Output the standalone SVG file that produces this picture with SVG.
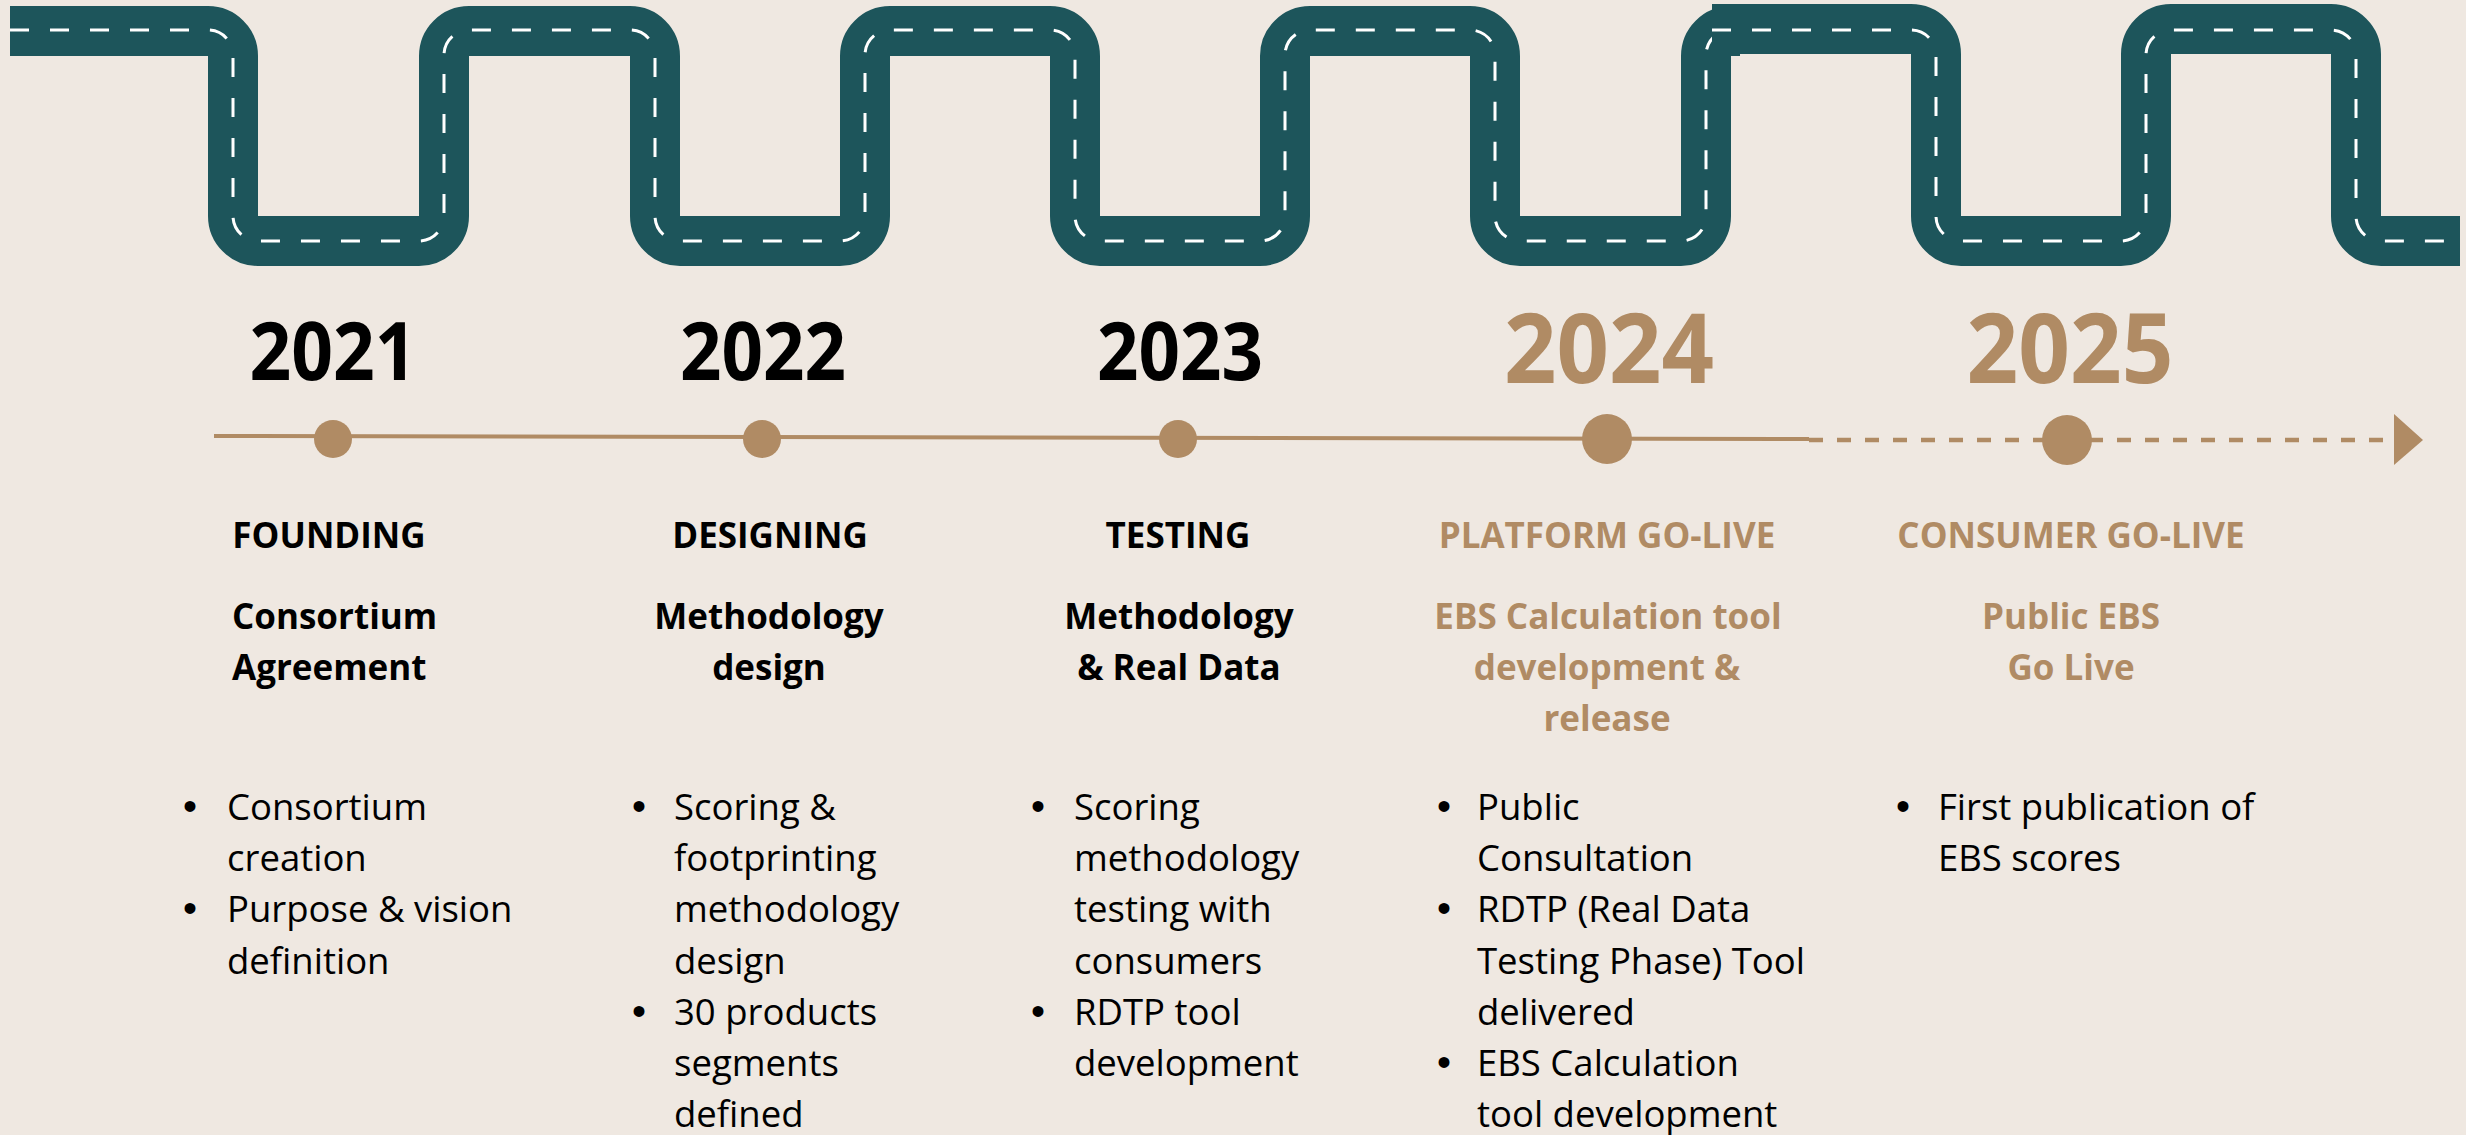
<svg xmlns="http://www.w3.org/2000/svg" width="2466" height="1135" viewBox="0 0 2466 1135">
<style>
.road{fill:none;stroke:#1D555B;stroke-width:50;stroke-linecap:butt;stroke-linejoin:miter}
.lane{fill:none;stroke:#FFFFFF;stroke-width:3;stroke-dasharray:19 21}
.yr{font-family:"Open Sans","Noto Sans",sans-serif;font-weight:700;text-anchor:middle}
.hd{font-family:"Open Sans","Noto Sans",sans-serif;font-weight:700;font-size:35px;text-anchor:middle}
.bt{font-family:"Open Sans","Noto Sans",sans-serif;font-size:36.5px}
.blt{font-family:"Liberation Sans",Arial,sans-serif;font-size:40px}
.blk{fill:#000000}
.gold{fill:#B08B64}
</style>
<rect x="0" y="0" width="2466" height="1135" fill="#EFE8E1"/>
<g id="road">
<path class="road" d="M10,31 H208 A25,25 0 0 1 233,56 V216 A25,25 0 0 0 258,241 H419 A25,25 0 0 0 444,216 V56 A25,25 0 0 1 469,31 H630 A25,25 0 0 1 655,56 V216 A25,25 0 0 0 680,241 H840 A25,25 0 0 0 865,216 V56 A25,25 0 0 1 890,31 H1050 A25,25 0 0 1 1075,56 V216 A25,25 0 0 0 1100,241 H1260 A25,25 0 0 0 1285,216 V56 A25,25 0 0 1 1310,31 H1470 A25,25 0 0 1 1495,56 V216 A25,25 0 0 0 1520,241 H1681 A25,25 0 0 0 1706,216 V56 A25,25 0 0 1 1731,31 H1740"/>
<path class="lane" d="M10,30 H208 A25,25 0 0 1 233,55 V216 A25,25 0 0 0 258,241 H419 A25,25 0 0 0 444,216 V55 A25,25 0 0 1 469,30 H630 A25,25 0 0 1 655,55 V216 A25,25 0 0 0 680,241 H840 A25,25 0 0 0 865,216 V55 A25,25 0 0 1 890,30 H1050 A25,25 0 0 1 1075,55 V216 A25,25 0 0 0 1100,241 H1260 A25,25 0 0 0 1285,216 V55 A25,25 0 0 1 1310,30 H1470 A25,25 0 0 1 1495,55 V216 A25,25 0 0 0 1520,241 H1681 A25,25 0 0 0 1706,216 V55 A25,25 0 0 1 1731,30"/>
<path class="road" d="M1712,29 H1911 A25,25 0 0 1 1936,54 V216 A25,25 0 0 0 1961,241 H2121 A25,25 0 0 0 2146,216 V54 A25,25 0 0 1 2171,29 H2331 A25,25 0 0 1 2356,54 V216 A25,25 0 0 0 2381,241 H2460"/>
<path class="lane" d="M1712,30 H1911 A25,25 0 0 1 1936,55 V216 A25,25 0 0 0 1961,241 H2121 A25,25 0 0 0 2146,216 V55 A25,25 0 0 1 2171,30 H2331 A25,25 0 0 1 2356,55 V216 A25,25 0 0 0 2381,241 H2460"/>
</g>
<g id="connectors">
<line x1="214" y1="436" x2="1809" y2="439" stroke="#B08B64" stroke-width="4"/>
<line x1="1809" y1="440" x2="2394" y2="440" stroke="#B08B64" stroke-width="4.5" stroke-dasharray="14 14"/>
<polygon points="2394,414 2423,440 2394,465" fill="#B08B64"/>
</g>
<g id="m2021">
<circle cx="333" cy="439" r="19" fill="#B08B64"/>
<text class="yr blk" x="333" y="380" font-size="80" textLength="167" lengthAdjust="spacingAndGlyphs">2021</text>
<text class="hd blk" x="329" y="548">FOUNDING</text>
<text class="hd blk" x="232" y="629" text-anchor="start" style="text-anchor:start">Consortium</text>
<text class="hd blk" x="232" y="680" style="text-anchor:start">Agreement</text>
<text class="blt blk" x="183" y="820">•</text>
<text class="bt blk" x="227" y="820">Consortium</text>
<text class="bt blk" x="227" y="871">creation</text>
<text class="blt blk" x="183" y="922">•</text>
<text class="bt blk" x="227" y="922">Purpose &amp; vision</text>
<text class="bt blk" x="227" y="974">definition</text>
</g>
<g id="m2022">
<circle cx="762" cy="439" r="19" fill="#B08B64"/>
<text class="yr blk" x="763" y="380" font-size="80" textLength="166" lengthAdjust="spacingAndGlyphs">2022</text>
<text class="hd blk" x="770" y="548">DESIGNING</text>
<text class="hd blk" x="769" y="629">Methodology</text>
<text class="hd blk" x="769" y="680">design</text>
<text class="blt blk" x="632" y="820">•</text>
<text class="bt blk" x="674" y="820">Scoring &amp;</text>
<text class="bt blk" x="674" y="871">footprinting</text>
<text class="bt blk" x="674" y="922">methodology</text>
<text class="bt blk" x="674" y="974">design</text>
<text class="blt blk" x="632" y="1025">•</text>
<text class="bt blk" x="674" y="1025">30 products</text>
<text class="bt blk" x="674" y="1076">segments</text>
<text class="bt blk" x="674" y="1127">defined</text>
</g>
<g id="m2023">
<circle cx="1178" cy="439" r="19" fill="#B08B64"/>
<text class="yr blk" x="1180" y="380" font-size="80" textLength="166" lengthAdjust="spacingAndGlyphs">2023</text>
<text class="hd blk" x="1178" y="548">TESTING</text>
<text class="hd blk" x="1179" y="629">Methodology</text>
<text class="hd blk" x="1179" y="680">&amp; Real Data</text>
<text class="blt blk" x="1031" y="820">•</text>
<text class="bt blk" x="1074" y="820">Scoring</text>
<text class="bt blk" x="1074" y="871">methodology</text>
<text class="bt blk" x="1074" y="922">testing with</text>
<text class="bt blk" x="1074" y="974">consumers</text>
<text class="blt blk" x="1031" y="1025">•</text>
<text class="bt blk" x="1074" y="1025">RDTP tool</text>
<text class="bt blk" x="1074" y="1076">development</text>
</g>
<g id="m2024">
<circle cx="1607" cy="439" r="25" fill="#B08B64"/>
<text class="yr gold" x="1609" y="383" font-size="97" textLength="210" lengthAdjust="spacingAndGlyphs">2024</text>
<text class="hd gold" x="1607" y="548">PLATFORM GO-LIVE</text>
<text class="hd gold" x="1608" y="629">EBS Calculation tool</text>
<text class="hd gold" x="1607" y="680">development &amp;</text>
<text class="hd gold" x="1607" y="731">release</text>
<text class="blt blk" x="1437" y="820">•</text>
<text class="bt blk" x="1477" y="820">Public</text>
<text class="bt blk" x="1477" y="871">Consultation</text>
<text class="blt blk" x="1437" y="922">•</text>
<text class="bt blk" x="1477" y="922">RDTP (Real Data</text>
<text class="bt blk" x="1477" y="974">Testing Phase) Tool</text>
<text class="bt blk" x="1477" y="1025">delivered</text>
<text class="blt blk" x="1437" y="1076">•</text>
<text class="bt blk" x="1477" y="1076">EBS Calculation</text>
<text class="bt blk" x="1477" y="1127">tool development</text>
</g>
<g id="m2025">
<circle cx="2067" cy="440" r="25" fill="#B08B64"/>
<text class="yr gold" x="2070" y="383" font-size="97" textLength="207" lengthAdjust="spacingAndGlyphs">2025</text>
<text class="hd gold" x="2071" y="548">CONSUMER GO-LIVE</text>
<text class="hd gold" x="2071" y="629">Public EBS</text>
<text class="hd gold" x="2071" y="680">Go Live</text>
<text class="blt blk" x="1896" y="820">•</text>
<text class="bt blk" x="1938" y="820">First publication of</text>
<text class="bt blk" x="1938" y="871">EBS scores</text>
</g>
</svg>
